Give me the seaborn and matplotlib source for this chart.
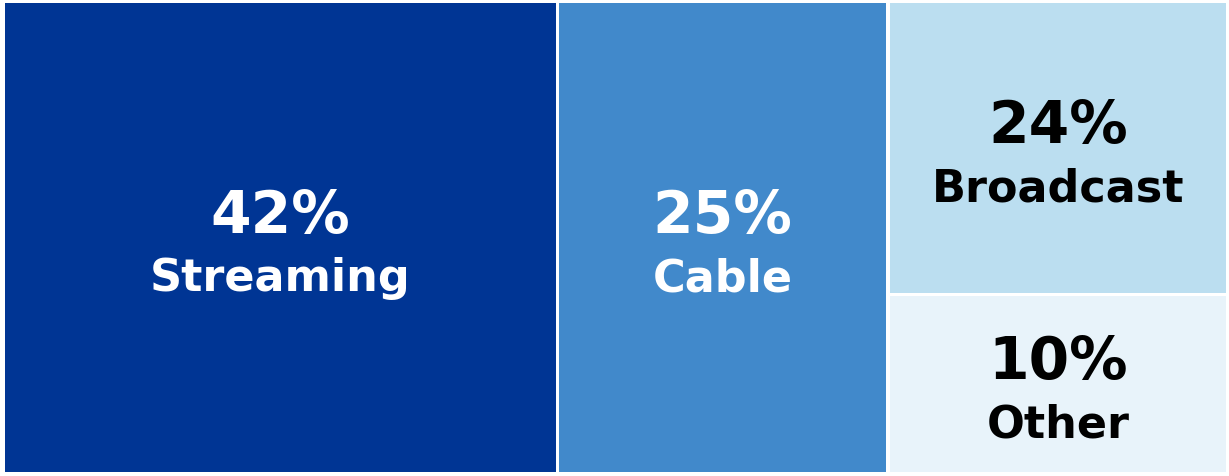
import matplotlib
matplotlib.use("Agg")
import matplotlib.pyplot as plt
import seaborn as sns

# Share of viewing time by platform
categories = ["Streaming", "Cable", "Broadcast", "Other"]
shares = [42, 25, 24, 10]

# Tile layout in figure pixels (left, top, width, height)
tile_left = [5, 559, 890, 890]
tile_top = [3, 3, 3, 296]
tile_width = [551, 327, 336, 336]
tile_height = [469, 469, 290, 176]

tile_colors = ["#003594", "#4189CB", "#BBDEF0", "#E8F3FA"]
text_colors = ["white", "white", "black", "black"]

sns.set_style("white")
plt.rcParams["font.family"] = ["DejaVu Sans"]

W, H = 1229, 476
fig = plt.figure(figsize=(W / 100, H / 100), dpi=100)
ax = fig.add_axes([0, 0, 1, 1])
ax.set_xlim(0, W)
ax.set_ylim(H, 0)
ax.axis("off")

ax.bar(tile_left, tile_height, width=tile_width, bottom=tile_top,
       align="edge", color=tile_colors, linewidth=0)

for cat, val, x0, y0, w, h, tc in zip(categories, shares, tile_left, tile_top,
                                        tile_width, tile_height, text_colors):
    cx = x0 + w / 2
    cy = y0 + h / 2
    ax.text(cx, cy - 5, f"{val}%", ha="center", va="baseline",
            fontsize=42, fontweight="bold", color=tc)
    ax.text(cx, cy + 54, cat, ha="center", va="baseline",
            fontsize=32, fontweight="bold", color=tc)

fig.savefig("out.png", dpi=100, facecolor="white")
